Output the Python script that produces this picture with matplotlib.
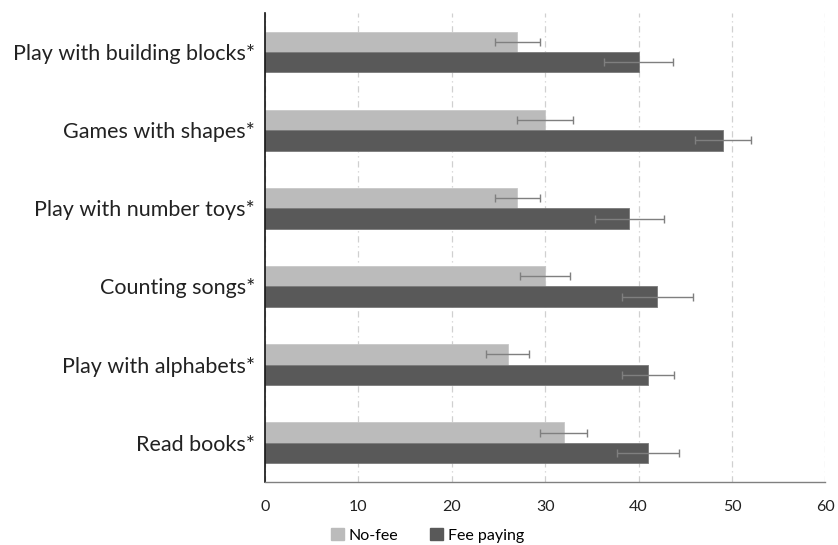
import matplotlib
matplotlib.use("Agg")
import matplotlib.pyplot as plt
import numpy as np
from matplotlib.patches import Patch

plt.rcParams['font.family'] = ['Lato', 'DejaVu Sans']

# activities, listed bottom to top
activities = ["Read books*", "Play with alphabets*", "Counting songs*",
              "Play with number toys*", "Games with shapes*", "Play with building blocks*"]
no_fee = [32, 26, 30, 27, 30, 27]
no_fee_err = [2.5, 2.3, 2.7, 2.4, 3.0, 2.4]
fee_paying = [41, 41, 42, 39, 49, 40]
fee_paying_err = [3.3, 2.8, 3.8, 3.7, 3.0, 3.7]
xticks = [0, 10, 20, 30, 40, 50, 60]

fig = plt.figure(figsize=(8.38, 5.45), dpi=100)
ax = fig.add_axes([0.316, 0.116, 0.669, 0.86])

y = np.arange(len(activities))
h = 0.26
errstyle = dict(ecolor='#7f7f7f', elinewidth=1.0, capsize=3, capthick=1.0)

ax.barh(y + h / 2, no_fee, height=h, color='#bbbbbb', edgecolor='#c8c8c8', linewidth=0.6,
        xerr=no_fee_err, error_kw=errstyle, zorder=2)
ax.barh(y - h / 2, fee_paying, height=h, color='#595959', edgecolor='#7a7a7a', linewidth=0.6,
        xerr=fee_paying_err, error_kw=errstyle, zorder=2)

ax.set_xlim(0, 60)
ax.set_ylim(-0.5, len(activities) - 0.5)
ax.set_xticks(xticks)
ax.set_yticks(y)
ax.set_yticklabels(activities, fontsize=15.5, color='#222222')
ax.tick_params(axis='x', length=0, labelsize=11.5, pad=13, colors='#222222')
ax.tick_params(axis='y', length=0, pad=7)

ax.xaxis.grid(True, color='#d0d0d0', linestyle=(0, (5, 3, 1, 3)), linewidth=0.9, zorder=0)
ax.set_axisbelow(True)
for s in ['top', 'right']:
    ax.spines[s].set_visible(False)
ax.spines['left'].set_color('#111111')
ax.spines['left'].set_linewidth(1.2)
ax.spines['bottom'].set_color('#808080')
ax.spines['bottom'].set_linewidth(1.0)

handles = [Patch(color='#bbbbbb', label='No-fee'), Patch(color='#595959', label='Fee paying')]
fig.legend(handles=handles, loc='lower center', bbox_to_anchor=(0.51, -0.022), ncol=2,
           frameon=False, fontsize=11.5, handlelength=0.8, handleheight=0.8,
           handletextpad=0.3, columnspacing=2.0)

fig.savefig('out.png', dpi=100)
